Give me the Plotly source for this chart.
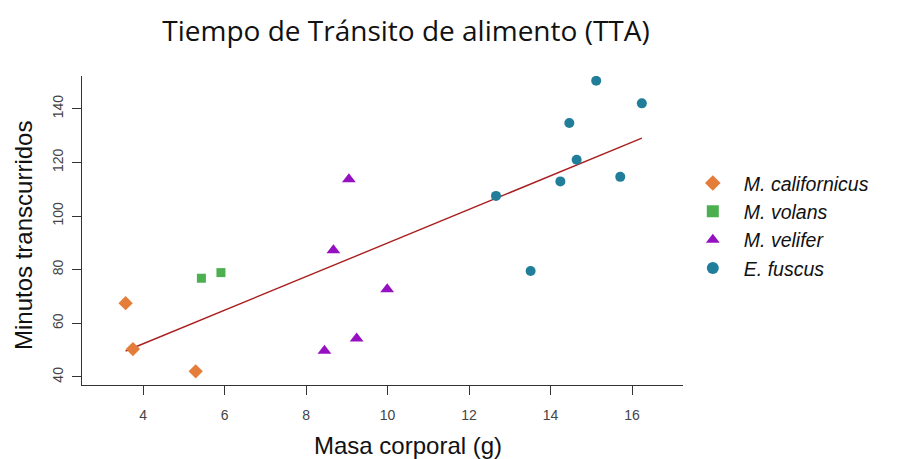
import numpy as np
import plotly.graph_objects as go

# Data
cal_x = [3.57, 3.75, 5.29]
cal_y = [67.5, 50.4, 42.1]
vol_x = [5.43, 5.91]
vol_y = [76.8, 78.9]
vel_x = [9.05, 8.67, 9.99, 9.24, 8.45]
vel_y = [113.7, 87.2, 72.7, 54.3, 49.8]
fus_x = [15.12, 16.24, 14.46, 14.64, 14.24, 15.71, 12.66, 13.51]
fus_y = [150.4, 142.0, 134.7, 121.0, 112.9, 114.6, 107.5, 79.5]

species = ["M. californicus", "M. volans", "M. velifer", "E. fuscus"]
x_ticks = [4, 6, 8, 10, 12, 14, 16]
y_ticks = [40, 60, 80, 100, 120, 140]

# Linear fit across all points
all_x = np.array(cal_x + vol_x + vel_x + fus_x)
all_y = np.array(cal_y + vol_y + vel_y + fus_y)
slope, intercept = np.polyfit(all_x, all_y, 1)
fit_x = [all_x.min(), all_x.max()]
fit_y = [slope * v + intercept for v in fit_x]

fig = go.Figure()
fig.add_trace(go.Scatter(x=fit_x, y=fit_y, mode="lines",
                         line=dict(color="#a8201f", width=1.4),
                         showlegend=False, hoverinfo="skip"))

series = [
    (cal_x, cal_y, "diamond", "#e47d3a", 11),
    (vol_x, vol_y, "square", "#4caf50", 9),
    (vel_x, vel_y, "triangle-up", "#9410c0", 12),
    (fus_x, fus_y, "circle", "#217e9a", 10),
]
for (xs, ys, sym, col, sz), name in zip(series, species):
    fig.add_trace(go.Scatter(x=xs, y=ys, mode="markers", name=name,
                             marker=dict(symbol=sym, color=col, size=sz,
                                         line=dict(width=0))))

ARIAL = "Liberation Sans, Arial"

axis_common = dict(showline=True, linecolor="#333333", linewidth=1.2,
                   ticks="outside", ticklen=9, tickcolor="#333333",
                   showgrid=False, zeroline=False, mirror=False,
                   automargin=False,
                   tickfont=dict(family=ARIAL, size=14, color="#444444"))

fig.update_layout(
    width=904, height=459,
    paper_bgcolor="white", plot_bgcolor="white",
    margin=dict(l=82, r=221, t=76, b=74),
    title=dict(text="Tiempo de Tránsito de alimento (TTA)",
               x=406 / 904, xanchor="center", y=1 - 31 / 459, yanchor="middle",
               font=dict(family="Open Sans", size=28, color="#111111")),
    xaxis=dict(range=[2.5, 17.25], tickvals=x_ticks, ticklabelstandoff=8,
               **axis_common),
    yaxis=dict(range=[37, 152.2], tickvals=y_ticks, tickangle=-90,
               ticklabelstandoff=3, **axis_common),
    legend=dict(x=0.998, y=0.716, xanchor="left", yanchor="top",
                font=dict(family=ARIAL, size=19.5, color="#111111",
                          style="italic"),
                itemwidth=52, tracegroupgap=0, itemsizing="constant"),
    annotations=[
        dict(text="Masa corporal (g)", xref="paper", yref="paper",
             x=(408 - 82) / 601, y=-(445 - 385) / 309,
             xanchor="center", yanchor="middle", showarrow=False,
             font=dict(family=ARIAL, size=24, color="#111111")),
        dict(text="Minutos transcurridos", xref="paper", yref="paper",
             x=-(82 - 23) / 601, y=(385 - 236) / 309, textangle=-90,
             xanchor="center", yanchor="middle", showarrow=False,
             font=dict(family=ARIAL, size=24, color="#111111")),
    ],
)

fig.write_html("out.html",
               config={"displayModeBar": False},
               post_script="document.body.style.margin='0';"
                           "document.body.style.padding='0';")
